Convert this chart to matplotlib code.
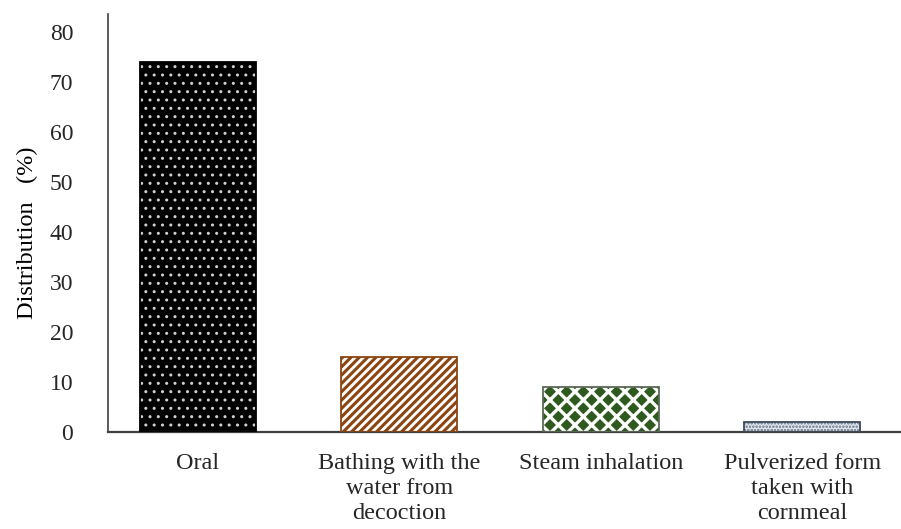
import matplotlib
matplotlib.use("Agg")
import matplotlib.pyplot as plt

# ================= DATA ================= #
categories = [
    "Oral",
    "Bathing with the\nwater from\ndecoction",
    "Steam inhalation",
    "Pulverized form\ntaken with\ncornmeal",
]
distribution = [74, 15, 9, 2]

# ================= STYLE ================= #
face_colors = ["#000000", "#ffffff", "#2f5a1f", "#dde5ee"]
hatch_colors = ["#d0d0d0", "#8b4513", "#ffffff", "#8a949e"]
edge_colors = ["#000000", "#8b4513", "#5a6a55", "#3e4a5a"]
hatches = ["..", "////", "xx", "ooooo"]
hatch_widths = [1.0, 2.2, 2.4, 0.6]

plt.rcParams["font.family"] = ["Liberation Serif", "DejaVu Serif"]
plt.rcParams["text.color"] = "#262626"
plt.rcParams["xtick.labelcolor"] = "#262626"
plt.rcParams["ytick.labelcolor"] = "#262626"

fig = plt.figure(figsize=(9.01, 5.29), dpi=100)
ax = fig.add_axes([108 / 901, 1 - 432 / 529, 1 - 108 / 901, (432 - 14) / 529])

x = list(range(len(categories)))
width = 0.576

for i in x:
    b = ax.bar(x[i], distribution[i], width=width, color=face_colors[i],
               edgecolor=hatch_colors[i], linewidth=0, hatch=hatches[i], zorder=2)
    for p in b:
        try:
            p.set_hatch_linewidth(hatch_widths[i])
        except AttributeError:
            pass
    ax.bar(x[i], distribution[i], width=width, fill=False,
           edgecolor=edge_colors[i], linewidth=1.3, zorder=3)

ax.set_xlim(-0.447, 3.49)
ax.set_ylim(0, 83.6)
ax.set_yticks(range(0, 81, 10))
ax.set_xticks(x)
ax.set_xticklabels(categories, fontsize=17.5, linespacing=1.25)
ax.tick_params(axis="x", length=0, pad=15)
ax.tick_params(axis="y", which="major", length=0, pad=25, labelsize=17)
ax.set_yticks([0], minor=True)
ax.tick_params(axis="y", which="minor", length=9.5, width=1.2, color="#404040")

for s in ["top", "right"]:
    ax.spines[s].set_visible(False)
ax.spines["left"].set_color("#404040")
ax.spines["bottom"].set_color("#404040")
ax.spines["left"].set_linewidth(1.2)
ax.spines["bottom"].set_linewidth(1.6)

ax.set_ylabel("Distribution   (%)", fontsize=17.5)
ax.yaxis.set_label_coords(-0.088, 0.476)

fig.savefig("out.png", dpi=100)
